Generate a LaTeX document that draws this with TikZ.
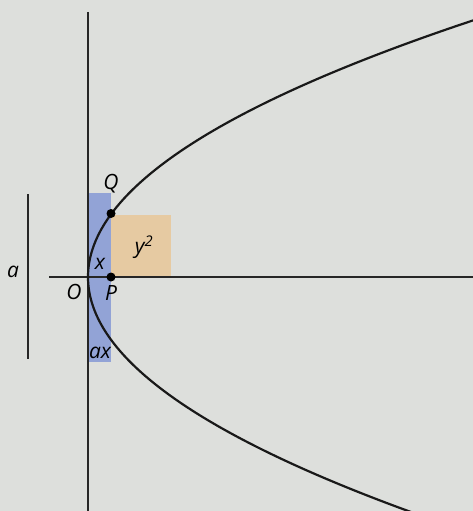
\documentclass[tikz,border=0pt]{standalone}
\usepackage{fontspec}
\setmainfont{Open Sans}
\begin{document}
\begin{tikzpicture}[x=1pt,y=-1pt,
  lbl/.style={font=\itshape\fontsize{21}{21}\selectfont, inner sep=0pt},
  axis/.style={line width=1.6pt, black!85},
  curve/.style={line width=2.2pt, black!90},
  dotmark/.style={circle, fill=black, inner sep=0pt, minimum size=9pt}]
\definecolor{bg}{RGB}{221,223,220}
\definecolor{bluefill}{RGB}{146,163,214}
\definecolor{orangefill}{RGB}{230,202,162}
\fill[bg] (0,0) rectangle (473,511);
\useasboundingbox (0,0) rectangle (473,511);
% shaded rectangles
\fill[bluefill] (88,193) rectangle (111,362);
\fill[orangefill] (111,215) rectangle (171,276);
% axes
\coordinate (vtop) at (88,12);
\coordinate (vbot) at (88,511);
\coordinate (hl) at (49,277);
\coordinate (hr) at (473,277);
\draw[axis] (vtop) -- (vbot);
\draw[axis] (hl) -- (hr);
% left bar a
\coordinate (bt) at (28,194);
\coordinate (bb) at (28,359);
\draw[axis] (bt) -- (bb);
% parabola
\begin{scope}
\clip (0,0) rectangle (473,511);
\draw[curve] plot[domain=-2.36:2.6, samples=200, smooth, variable=\t] ({88+58.48*\t*\t}, {277-100*\t});
\end{scope}
% dots
\node[dotmark] (Qd) at (111,213.5) {};
\node[dotmark] (Pd) at (111,277) {};
% labels
\node[lbl] (a) at (13,272) {a};
\node[lbl] (Q) at (111,184) {Q};
\node[lbl] (y2) at (144,247) {y\textsuperscript{2}};
\node[lbl] (x) at (100,264) {x};
\node[lbl] (O) at (74,292) {O};
\node[lbl] (P) at (111,293) {P};
\node[lbl] (ax) at (100,353) {ax};
\end{tikzpicture}
\end{document}
